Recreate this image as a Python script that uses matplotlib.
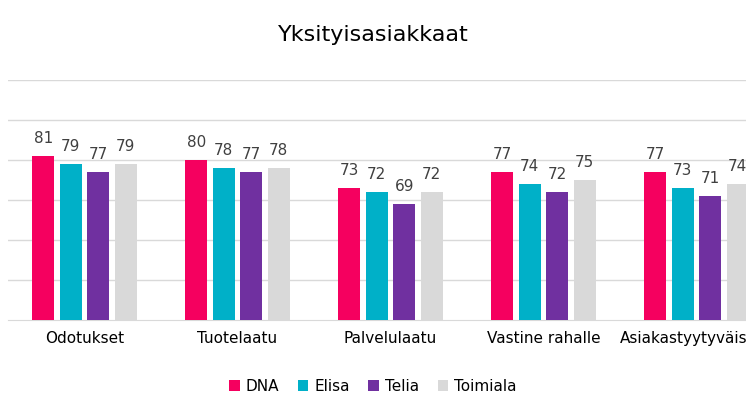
import matplotlib
matplotlib.use("Agg")
import matplotlib.pyplot as plt
import numpy as np

# Data
categories = ["Odotukset", "Tuotelaatu", "Palvelulaatu", "Vastine rahalle", "Asiakastyytyväisyys"]
series_names = ["DNA", "Elisa", "Telia", "Toimiala"]
dna = [81, 80, 73, 77, 77]
elisa = [79, 78, 72, 74, 73]
telia = [77, 77, 69, 72, 71]
toimiala = [79, 78, 72, 75, 74]
colors = ["#F5005F", "#00B0C8", "#7030A0", "#D9D9D9"]

W, H = 746, 419
fig = plt.figure(figsize=(W / 100, H / 100), dpi=100)
# axes deliberately wider than the figure: last category is cut off in the reference
ax = fig.add_axes([8 / W, 99 / H, 765 / W, 240 / H])

x = np.arange(len(categories))
step = 0.18
width = 0.145
for i, (name, vals) in enumerate(zip(series_names, [dna, elisa, telia, toimiala])):
    pos = x + (i - 1.5) * step
    bars = ax.bar(pos, vals, width, color=colors[i], label=name, zorder=3)
    for b, v in zip(bars, vals):
        ax.text(b.get_x() + b.get_width() / 2, v + 2.5, str(v), ha="center", va="bottom",
                fontsize=11, color="#404040")

ax.set_ylim(40, 100)
ax.set_xlim(-0.5, len(categories) - 0.5)
ax.set_yticks(range(50, 101, 10))
ax.yaxis.grid(True, color="#D9D9D9", linewidth=1, zorder=0)
ax.tick_params(axis="y", left=False, labelleft=False)
ax.tick_params(axis="x", length=0, labelsize=11, labelcolor="#000000", pad=8)
ax.set_xticks(x)
ax.set_xticklabels(categories)
for s in ["top", "right", "left"]:
    ax.spines[s].set_visible(False)
ax.spines["bottom"].set_color("#D9D9D9")

fig.text(0.5, 1 - 35 / H, "Yksityisasiakkaat", ha="center", va="center", fontsize=16, color="#000000")
fig.legend(loc="center", bbox_to_anchor=(0.5, 1 - 386 / H), ncol=4, frameon=False,
           fontsize=11, handlelength=0.7, handleheight=0.7, columnspacing=1.2, handletextpad=0.4)

fig.savefig("out.png", dpi=100)
